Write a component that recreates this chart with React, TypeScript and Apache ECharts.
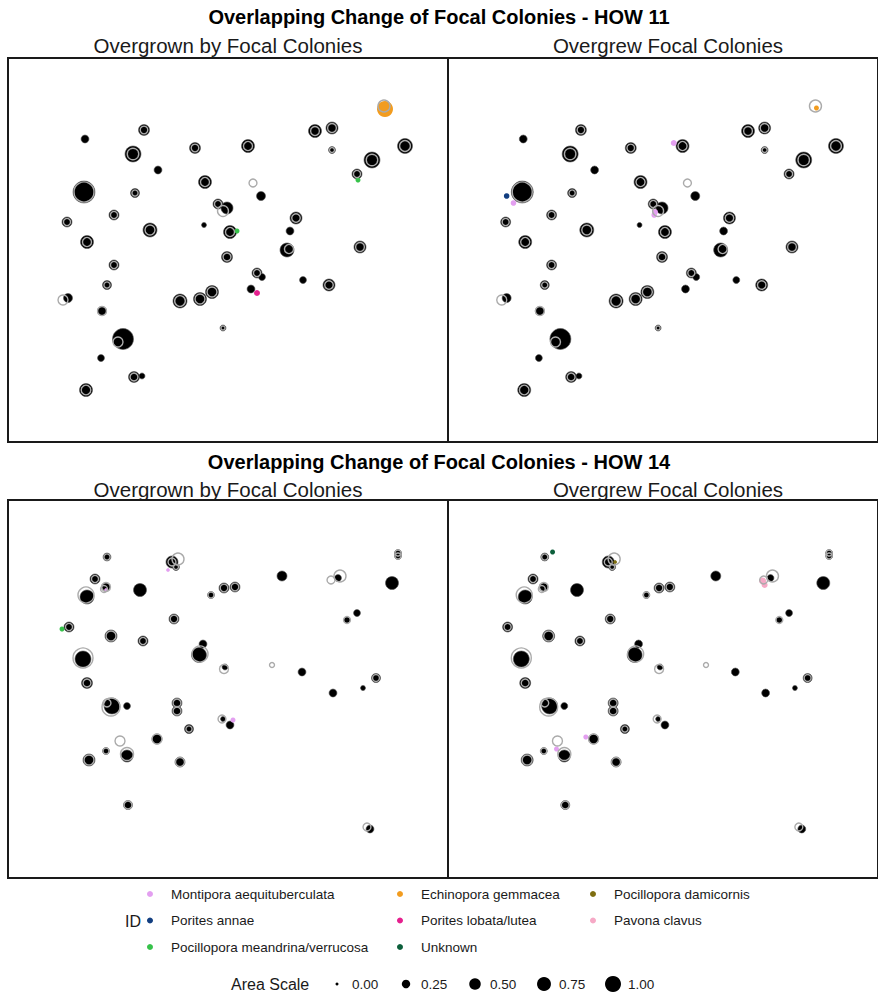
import React, { useEffect, useRef } from "react";
import * as echarts from "echarts";

// ---------- data ----------
const SPECIES = [
  "Montipora aequituberculata",
  "Porites annae",
  "Pocillopora meandrina/verrucosa",
  "Echinopora gemmacea",
  "Porites lobata/lutea",
  "Unknown",
  "Pocillopora damicornis",
  "Pavona clavus",
];
const SPECIES_COLORS = ["#e39ff0", "#123e80", "#36c24a", "#f29c1f", "#e5208e", "#0c5f3b", "#7e6e10", "#f6a9c6"];
const LEGEND_COLUMNS = [[0, 1, 2], [3, 4, 5], [6, 7]];

const AREA_BREAKS = [0, 0.25, 0.5, 0.75, 1];
const AREA_LABELS = ["0.00", "0.25", "0.50", "0.75", "1.00"];

const ROW_TITLES = ["Overlapping Change of Focal Colonies - HOW 11", "Overlapping Change of Focal Colonies - HOW 14"];
const PANEL_TITLES = ["Overgrown by Focal Colonies", "Overgrew Focal Colonies"];

// site extent (x, y)
const SITE_X = [0, 440];
const HOW11_Y = [0, 384];
const HOW14_Y = [0, 378];

// [x, y, area]
const HOW11_FOCAL = [
  [77, 81, 0.22], [136, 72, 0.45], [125, 96, 1.0], [150, 112, 0.22], [187, 90, 0.45], [240, 88, 0.65],
  [307, 73, 0.65], [324, 70, 0.55], [324, 92, 0.16], [397, 88, 0.87], [364, 102, 1.0], [349, 116, 0.37],
  [76, 134, 1.92], [127, 135, 0.29], [197, 124, 0.65], [253, 138, 0.29], [210, 146, 0.37], [219, 150, 0.55],
  [59, 164, 0.37], [106, 157, 0.37], [142, 172, 0.76], [196, 167, 0.065], [222, 174, 0.65], [288, 160, 0.55],
  [282, 173, 0.22], [79, 184, 0.65], [279, 192, 0.76], [352, 189, 0.55], [219, 199, 0.45], [106, 207, 0.37],
  [249, 215, 0.37], [254, 219, 0.16], [99, 227, 0.29], [60, 240, 0.29], [172, 243, 0.76], [192, 241, 0.65],
  [204, 234, 0.65], [243, 231, 0.22], [295, 222, 0.16], [321, 227, 0.55], [94, 253, 0.29], [115, 281, 1.75],
  [215, 270, 0.11], [93, 300, 0.16], [126, 319, 0.45], [134, 318, 0.11], [78, 332, 0.65],
];
const HOW11_PRIOR = [
  [136, 72, 0.2], [125, 96, 0.5], [187, 90, 0.2], [240, 88, 0.3], [307, 73, 0.28], [324, 70, 0.28],
  [324, 92, 0.065], [397, 88, 0.44], [364, 102, 0.5], [349, 116, 0.17], [76, 134, 1.58], [127, 135, 0.12],
  [197, 124, 0.3], [245, 125, 0.22], [210, 146, 0.17], [215, 153, 0.45], [59, 164, 0.17], [106, 157, 0.17],
  [142, 172, 0.37], [222, 174, 0.3], [288, 160, 0.26], [79, 184, 0.3], [281, 191, 0.3], [352, 189, 0.28],
  [219, 199, 0.22], [106, 207, 0.17], [249, 215, 0.17], [99, 227, 0.12], [55, 242, 0.37], [172, 243, 0.42],
  [192, 241, 0.37], [204, 234, 0.37], [321, 227, 0.26], [94, 253, 0.29], [110, 284, 0.37], [215, 270, 0.03],
  [126, 319, 0.22], [78, 332, 0.34], [376, 48, 0.55],
];
// [x, y, area, species]
const HOW11_OVERGROWN = [[377, 51, 1.0, 3], [350, 122, 0.065, 2], [229, 173, 0.065, 2], [249, 235, 0.11, 4]];
const HOW11_OVERGREW = [
  [377, 50, 0.065, 3], [231, 85, 0.11, 0], [60, 138, 0.09, 1], [67, 145, 0.09, 0], [211, 157, 0.09, 0], [212, 154, 0.09, 0],
];

const HOW14_FOCAL = [
  [99, 57, 0.22], [164, 62, 0.55], [168, 67, 0.16], [87, 79, 0.37], [98, 87, 0.22], [79, 97, 0.76],
  [132, 90, 0.65], [203, 95, 0.16], [216, 88, 0.37], [227, 87, 0.37], [274, 76, 0.37], [330, 78, 0.16],
  [390, 53, 0.16], [390, 56, 0.16], [384, 83, 0.65], [61, 127, 0.37], [166, 119, 0.37], [103, 136, 0.55],
  [135, 141, 0.37], [349, 113, 0.16], [339, 120, 0.11], [195, 144, 0.22], [191, 155, 0.87], [75, 159, 1.0],
  [217, 167, 0.11], [294, 172, 0.22], [368, 178, 0.29], [79, 183, 0.45], [325, 193, 0.22], [355, 188, 0.065],
  [104, 206, 1.0], [119, 206, 0.16], [169, 203, 0.37], [169, 211, 0.37], [215, 219, 0.065], [222, 225, 0.22],
  [181, 229, 0.29], [149, 239, 0.37], [98, 251, 0.16], [119, 256, 0.55], [81, 260, 0.55], [172, 262, 0.37],
  [120, 305, 0.29], [362, 329, 0.22],
];
const HOW14_PRIOR = [
  [99, 57, 0.12], [170, 59, 0.55], [164, 62, 0.22], [168, 67, 0.065], [87, 79, 0.17], [98, 87, 0.29],
  [96, 89, 0.16], [78, 95, 1.0], [203, 95, 0.11], [216, 88, 0.2], [227, 87, 0.2], [332, 76, 0.55],
  [323, 80, 0.22], [390, 53, 0.11], [390, 56, 0.11], [61, 127, 0.17], [166, 119, 0.2], [103, 136, 0.37],
  [135, 141, 0.17], [339, 120, 0.16], [192, 154, 1.0], [75, 158, 1.58], [216, 169, 0.29], [264, 165, 0.065],
  [368, 178, 0.16], [79, 183, 0.22], [103, 207, 1.27], [99, 203, 0.22], [169, 203, 0.22], [169, 211, 0.22],
  [214, 219, 0.22], [181, 229, 0.12], [112, 241, 0.37], [149, 239, 0.37], [98, 251, 0.11], [119, 254, 0.65],
  [81, 260, 0.37], [172, 262, 0.29], [120, 305, 0.22], [359, 327, 0.22],
];
const HOW14_OVERGROWN = [[54, 129, 0.065, 2], [225, 220, 0.065, 0], [98, 90, 0.02, 0], [160, 70, 0.02, 0]];
const HOW14_OVERGREW = [
  [107, 52, 0.065, 5], [171, 62, 0.02, 6], [322, 81, 0.16, 7], [324, 85, 0.11, 7], [141, 237, 0.065, 0], [111, 249, 0.065, 0],
];

// ---------- helpers ----------
const FONT = "'Liberation Sans', Arial, Helvetica, sans-serif";
const sizeOf = (a: number) => Math.sqrt(9 + 247 * a);

const PANELS = [
  { focal: HOW11_FOCAL, prior: HOW11_PRIOR, species: HOW11_OVERGROWN, yr: HOW11_Y, left: 8, top: 58, height: 384 },
  { focal: HOW11_FOCAL, prior: HOW11_PRIOR, species: HOW11_OVERGREW, yr: HOW11_Y, left: 448, top: 58, height: 384 },
  { focal: HOW14_FOCAL, prior: HOW14_PRIOR, species: HOW14_OVERGROWN, yr: HOW14_Y, left: 8, top: 500, height: 378 },
  { focal: HOW14_FOCAL, prior: HOW14_PRIOR, species: HOW14_OVERGREW, yr: HOW14_Y, left: 448, top: 500, height: 378 },
];

function buildOption() {
  const grid: any[] = [];
  const xAxis: any[] = [];
  const yAxis: any[] = [];
  const series: any[] = [];
  PANELS.forEach((p, g) => {
    grid.push({
      left: p.left, top: p.top, width: 440, height: p.height,
      show: true, borderColor: "#1a1a1a", borderWidth: 2, backgroundColor: "#fff",
    });
    xAxis.push({ type: "value", gridIndex: g, min: SITE_X[0], max: SITE_X[1], show: false });
    yAxis.push({ type: "value", gridIndex: g, min: p.yr[0], max: p.yr[1], inverse: true, show: false });
    series.push({
      type: "scatter", name: "Focal colony", xAxisIndex: g, yAxisIndex: g, silent: true, z: 2,
      data: p.focal, symbolSize: (v: number[]) => sizeOf(v[2]),
      itemStyle: { color: "#000", borderColor: "#555", borderWidth: 0.6, opacity: 1 },
    });
    SPECIES.forEach((name, s) => {
      series.push({
        type: "scatter", name, xAxisIndex: g, yAxisIndex: g, silent: true, z: 3,
        data: p.species.filter((d) => d[3] === s),
        symbolSize: (v: number[]) => sizeOf(v[2]),
        itemStyle: { color: SPECIES_COLORS[s], opacity: 1 },
      });
    });
    series.push({
      type: "scatter", name: "Prior outline", xAxisIndex: g, yAxisIndex: g, silent: true, z: 4,
      data: p.prior, symbolSize: (v: number[]) => sizeOf(v[2]),
      itemStyle: { color: "rgba(255,255,255,0)", borderColor: "#ababab", borderWidth: 1.4, opacity: 1 },
    });
  });

  const legendLefts = [147, 397, 590];
  const legend = LEGEND_COLUMNS.map((col, i) => ({
    data: col.map((s) => SPECIES[s]),
    orient: "vertical",
    left: legendLefts[i],
    top: 886,
    padding: 0,
    itemGap: 10.5,
    itemWidth: 32,
    itemHeight: 6,
    icon: "circle",
    selectedMode: false,
    textStyle: { fontFamily: FONT, fontSize: 13.5, lineHeight: 16, color: "#1a1a1a" },
  }));

  const graphic: any[] = [];
  ROW_TITLES.forEach((t, r) => {
    const ty = r === 0 ? 17 : 462;
    graphic.push({
      type: "text", x: 439, y: ty,
      style: { text: t, font: `bold 20px ${FONT}`, fill: "#000", align: "center", verticalAlign: "middle" },
    });
    PANEL_TITLES.forEach((pt, c) => {
      graphic.push({
        type: "text", x: c === 0 ? 228 : 668, y: r === 0 ? 45 : 489,
        style: { text: pt, font: `20.5px ${FONT}`, fill: "#1a1a1a", align: "center", verticalAlign: "middle" },
      });
    });
  });
  graphic.push({
    type: "text", x: 125, y: 921,
    style: { text: "ID", font: `16px ${FONT}`, fill: "#1a1a1a", align: "left", verticalAlign: "middle" },
  });
  graphic.push({
    type: "text", x: 231, y: 984,
    style: { text: "Area Scale", font: `16px ${FONT}`, fill: "#1a1a1a", align: "left", verticalAlign: "middle" },
  });
  AREA_BREAKS.forEach((a, i) => {
    const cx = 337 + i * 69;
    graphic.push({ type: "circle", shape: { cx, cy: 984, r: sizeOf(a) / 2 }, style: { fill: "#000" } });
    graphic.push({
      type: "text", x: cx + 15, y: 984,
      style: { text: AREA_LABELS[i], font: `13.5px ${FONT}`, fill: "#1a1a1a", align: "left", verticalAlign: "middle" },
    });
  });

  return { animation: false, backgroundColor: "#fff", grid, xAxis, yAxis, series, legend, graphic };
}

export default function App() {
  const ref = useRef<HTMLDivElement>(null);
  useEffect(() => {
    if (!ref.current) return;
    const chart = echarts.init(ref.current, null, { renderer: "svg", width: 878, height: 994 });
    chart.setOption(buildOption() as any);
    return () => chart.dispose();
  }, []);
  return (
    <div
      ref={ref}
      style={{ position: "absolute", left: 0, top: 0, width: 878, height: 994, background: "#fff", overflow: "hidden" }}
    />
  );
}
